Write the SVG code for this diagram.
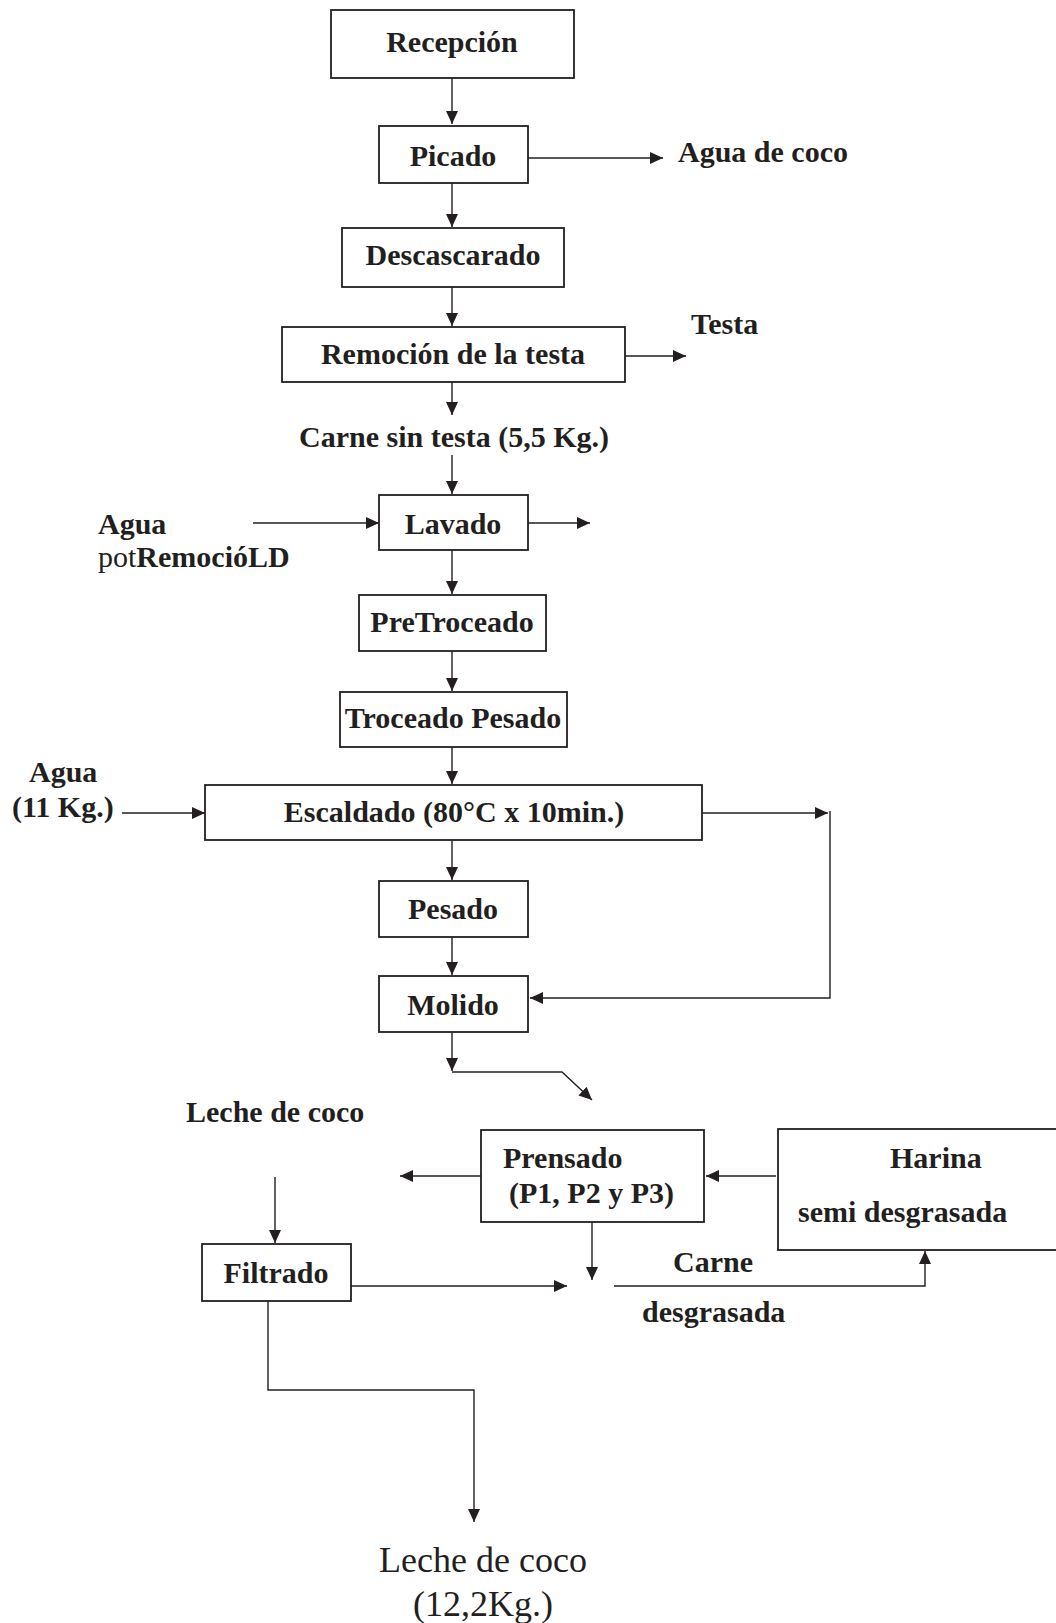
<svg xmlns="http://www.w3.org/2000/svg" width="1056" height="1623" viewBox="0 0 1056 1623">
<style>
.box{fill:#fff;stroke:#231f20;stroke-width:1.8}
.t{font-family:"Liberation Serif","Times New Roman",serif;font-weight:bold;font-size:30px;fill:#231f20}
.r{font-family:"Liberation Serif","Times New Roman",serif;font-size:36px;fill:#231f20}
.m{text-anchor:middle}
.c{fill:none;stroke:#231f20;stroke-width:1.4}
</style>
<defs>
<marker id="ah" markerUnits="userSpaceOnUse" markerWidth="14" markerHeight="12" viewBox="0 0 14 12" refX="13" refY="6" orient="auto">
<path d="M0,0 L13,6 L0,12 Z" fill="#231f20"/>
</marker>
</defs>
<rect width="1056" height="1623" fill="#fff"/>
<g id="connectors">
<line class="c" x1="452" y1="78" x2="452" y2="124" marker-end="url(#ah)"/>
<line class="c" x1="528" y1="158" x2="663" y2="158" marker-end="url(#ah)"/>
<line class="c" x1="452" y1="183" x2="452" y2="227" marker-end="url(#ah)"/>
<line class="c" x1="452" y1="287" x2="452" y2="326" marker-end="url(#ah)"/>
<line class="c" x1="625" y1="356" x2="686" y2="356" marker-end="url(#ah)"/>
<line class="c" x1="452" y1="382" x2="452" y2="415" marker-end="url(#ah)"/>
<line class="c" x1="452" y1="455" x2="452" y2="494" marker-end="url(#ah)"/>
<line class="c" x1="253" y1="523" x2="379" y2="523" marker-end="url(#ah)"/>
<line class="c" x1="528" y1="523" x2="590" y2="523" marker-end="url(#ah)"/>
<line class="c" x1="452" y1="550" x2="452" y2="594" marker-end="url(#ah)"/>
<line class="c" x1="452" y1="651" x2="452" y2="691" marker-end="url(#ah)"/>
<line class="c" x1="452" y1="747" x2="452" y2="784" marker-end="url(#ah)"/>
<line class="c" x1="122" y1="813" x2="205" y2="813" marker-end="url(#ah)"/>
<line class="c" x1="702" y1="813" x2="828" y2="813" marker-end="url(#ah)"/>
<polyline class="c" points="830,811 830,998 530,998" marker-end="url(#ah)"/>
<line class="c" x1="452" y1="840" x2="452" y2="880" marker-end="url(#ah)"/>
<line class="c" x1="452" y1="937" x2="452" y2="975" marker-end="url(#ah)"/>
<line class="c" x1="452" y1="1032" x2="452" y2="1071" marker-end="url(#ah)"/>
<polyline class="c" points="452,1072 562,1072 592,1100" marker-end="url(#ah)"/>
<line class="c" x1="481" y1="1176" x2="400" y2="1176" marker-end="url(#ah)"/>
<line class="c" x1="776" y1="1176" x2="706" y2="1176" marker-end="url(#ah)"/>
<line class="c" x1="275" y1="1177" x2="275" y2="1243" marker-end="url(#ah)"/>
<line class="c" x1="592" y1="1222" x2="592" y2="1280" marker-end="url(#ah)"/>
<line class="c" x1="351" y1="1286" x2="567" y2="1286" marker-end="url(#ah)"/>
<polyline class="c" points="614,1286 925,1286 925,1251" marker-end="url(#ah)"/>
<polyline class="c" points="268,1301 268,1390 474,1390 474,1522" marker-end="url(#ah)"/>
</g>
<g id="recepcion"><rect class="box" x="331" y="10" width="243" height="68"/><text class="t m" x="452" y="52">Recepción</text></g>
<g id="picado"><rect class="box" x="379" y="126" width="149" height="57"/><text class="t m" x="453" y="166">Picado</text></g>
<g id="agua-coco"><text class="t" x="678" y="162">Agua de coco</text></g>
<g id="descascarado"><rect class="box" x="342" y="228" width="222" height="59"/><text class="t m" x="453" y="265">Descascarado</text></g>
<g id="remocion"><rect class="box" x="282" y="327" width="343" height="55"/><text class="t m" x="453" y="364">Remoción de la testa</text></g>
<g id="testa"><text class="t" x="691" y="334">Testa</text></g>
<g id="carne-sin-testa"><text class="t m" x="454" y="447">Carne sin testa (5,5 Kg.)</text></g>
<g id="agua-lavado"><text class="t" x="98" y="534">Agua</text><text class="t" x="98" y="567"><tspan font-weight="normal">pot</tspan>RemocióLD</text></g>
<g id="lavado"><rect class="box" x="379" y="495" width="149" height="55"/><text class="t m" x="453" y="534">Lavado</text></g>
<g id="pretroceado"><rect class="box" x="359" y="595" width="187" height="56"/><text class="t m" x="452" y="632">PreTroceado</text></g>
<g id="troceado-pesado"><rect class="box" x="340" y="692" width="227" height="55"/><text class="t m" x="453" y="728">Troceado Pesado</text></g>
<g id="agua-escaldado"><text class="t" x="29" y="782">Agua</text><text class="t" x="12" y="817">(11 Kg.)</text></g>
<g id="escaldado"><rect class="box" x="205" y="785" width="497" height="55"/><text class="t m" x="454" y="822">Escaldado (80°C x 10min.)</text></g>
<g id="pesado"><rect class="box" x="379" y="881" width="149" height="56"/><text class="t m" x="453" y="919">Pesado</text></g>
<g id="molido"><rect class="box" x="379" y="976" width="149" height="56"/><text class="t m" x="453" y="1015">Molido</text></g>
<g id="leche-coco-label"><text class="t" x="186" y="1122">Leche de coco</text></g>
<g id="prensado"><rect class="box" x="481" y="1130" width="223" height="92"/><text class="t" x="503" y="1168">Prensado</text><text class="t" x="509" y="1203">(P1, P2 y P3)</text></g>
<g id="harina"><rect class="box" x="778" y="1129" width="290" height="121"/><text class="t" x="890" y="1168">Harina</text><text class="t" x="798" y="1222">semi desgrasada</text></g>
<g id="filtrado"><rect class="box" x="202" y="1244" width="149" height="57"/><text class="t m" x="276" y="1283">Filtrado</text></g>
<g id="carne-desgrasada"><text class="t" x="673" y="1272">Carne</text><text class="t" x="642" y="1322">desgrasada</text></g>
<g id="leche-coco-final"><text class="r m" x="483" y="1572">Leche de coco</text><text class="r m" x="483" y="1616">(12,2Kg.)</text></g>
</svg>
